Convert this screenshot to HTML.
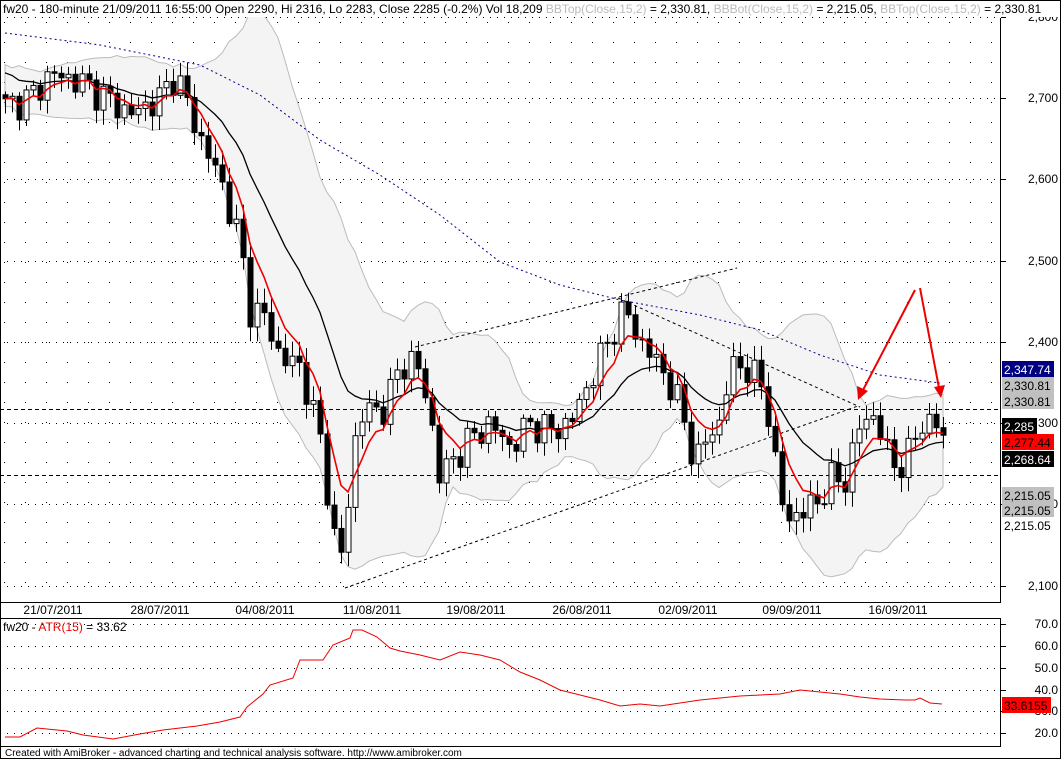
<!DOCTYPE html>
<html><head><meta charset="utf-8"><style>
html,body{margin:0;padding:0;background:#fff;}
body{width:1061px;height:759px;overflow:hidden;font-family:"Liberation Sans",Arial,sans-serif;}
svg text{font-family:"Liberation Sans",Arial,sans-serif;font-size:12px;}
</style></head><body>
<svg id="c" width="1061" height="759" xmlns="http://www.w3.org/2000/svg"></svg>
<script>
const S=document.getElementById('c');let h='';
const P=p=>423-(p-2300)*0.8125;
function interp(k,x){for(let i=0;i<k.length-1;i++){if(x<=k[i+1][0]){const t=(x-k[i][0])/(k[i+1][0]-k[i][0]);return k[i][1]+t*(k[i+1][1]-k[i][1]);}}return k[k.length-1][1];}
for(let x=4;x<1000;x+=21){for(let y=22;y<600;y+=20)h+=`<rect x="${x}" y="${y}" width="1" height="1" fill="#000"/>`;}
[2800,2700,2600,2500,2400,2300,2200,2100].forEach(p=>{const y=Math.round(P(p));h+=`<line x1="0" x2="1000" y1="${y}.5" y2="${y}.5" stroke="#000" stroke-dasharray="1,6"/>`;});
[624,646,668,690,711,733].forEach(y=>{h+=`<line x1="0" x2="1000" y1="${y}.5" y2="${y}.5" stroke="#000" stroke-dasharray="1,6"/>`;});
const K=[[5,2690],[30,2700],[50,2730],[80,2720],[100,2705],[130,2680],[160,2700],[175,2730],[185,2700],[200,2650],[220,2600],[240,2520],[250,2440],[265,2430],[280,2380],[300,2370],[320,2280],[335,2150],[345,2130],[350,2250],[360,2310],[385,2320],[400,2370],[415,2380],[430,2310],[440,2230],[455,2260],[470,2280],[490,2300],[510,2270],[530,2300],[550,2290],[570,2300],[585,2340],[600,2380],[615,2420],[625,2440],[640,2400],[660,2370],[680,2320],[695,2250],[710,2290],[720,2300],[730,2370],[745,2370],[765,2340],[775,2250],[785,2180],[800,2190],[815,2200],[830,2230],[845,2230],[860,2300],[875,2310],[890,2250],[905,2250],[920,2300],[935,2300],[943,2285]];
const N=135,xs=[],C=[];
for(let i=0;i<N;i++){const x=5+i*7;xs.push(x);C.push(interp(K,x)+Math.sin(i*2.3)*14+Math.cos(i*1.7)*9);}
C[N-1]=2285;
const ema=[],ma=[],up=[],lo=[];let e=C[0],m2=2735;
const hist=[2735,2730,2728,2725,2722,2720,2718,2715,2712,2710,2708,2705,2703,2700];
for(let i=0;i<N;i++){e=e+(C[i]-e)*0.3;ema.push(e);m2=m2+(C[i]-m2)*0.11;ma.push(m2);
const all=hist.concat(C.slice(0,i+1));const s=all.slice(-15);const m=s.reduce((a,b)=>a+b,0)/s.length;const sd=Math.sqrt(s.reduce((a,b)=>a+(b-m)*(b-m),0)/s.length);up.push(m+2*sd+4);lo.push(m-2*sd-4);}
let band='M'+xs.map((x,i)=>x+','+P(up[i]).toFixed(1)).join(' L')+' L'+xs.map((x,i)=>x+','+P(lo[i]).toFixed(1)).reverse().join(' L')+'Z';
h+=`<path d="${band}" fill="#f4f4f4" stroke="#bbb" stroke-width="1"/>`;
const B=[[5,33],[100,45],[200,65],[260,95],[320,140],[380,175],[440,215],[500,262],[560,285],[620,300],[700,315],[760,330],[820,355],[880,375],[940,383]];
h+=`<polyline points="${B.map(p=>p.join(',')).join(' ')}" fill="none" stroke="#00008b" stroke-dasharray="2,3"/>`;
h+=`<line x1="0" x2="1000" y1="409.5" y2="409.5" stroke="#000" stroke-dasharray="4,3"/><line x1="0" x2="1000" y1="475.5" y2="475.5" stroke="#000" stroke-dasharray="4,3"/>`;
h+=`<line x1="345" y1="588" x2="858" y2="406" stroke="#000" stroke-dasharray="3,3"/><line x1="415" y1="347" x2="737" y2="268" stroke="#000" stroke-dasharray="3,3"/><line x1="618" y1="298" x2="860" y2="407" stroke="#000" stroke-dasharray="3,3"/>`;
for(let i=0;i<N;i++){const o=i?C[i-1]:C[0]+5,c=C[i];const hi=Math.max(o,c)+4+Math.abs(Math.sin(i*3.1))*14,l=Math.min(o,c)-4-Math.abs(Math.cos(i*2.7))*14;const x=xs[i];
h+=`<line x1="${x+.5}" x2="${x+.5}" y1="${P(hi)}" y2="${P(l)}" stroke="#000"/>`;
const y1=P(Math.max(o,c)),bh=Math.max(1,P(Math.min(o,c))-y1);
h+=`<rect x="${x-2}" y="${y1}" width="5" height="${bh}" fill="${c>=o?'#fff':'#000'}" stroke="#000" stroke-width="1"/>`;}
h+=`<polyline points="${xs.map((x,i)=>x+','+P(ma[i]).toFixed(1)).join(' ')}" fill="none" stroke="#000" stroke-width="1.3"/>`;
h+=`<polyline points="${xs.map((x,i)=>x+','+P(ema[i]).toFixed(1)).join(' ')}" fill="none" stroke="#e00" stroke-width="1.6"/>`;
h+=`<line x1="915" y1="290" x2="862" y2="392" stroke="#e00" stroke-width="2"/><polygon points="858,400 857,386 868,391" fill="#e00"/>`;
h+=`<line x1="920" y1="288" x2="939" y2="388" stroke="#e00" stroke-width="2"/><polygon points="941,398 934,387 945,385" fill="#e00"/>`;
h+=`<rect x="0.5" y="0.5" width="1060" height="758" fill="none" stroke="#000"/>`;
h+=`<line x1="1000.5" x2="1000.5" y1="18" y2="602" stroke="#000"/><line x1="0" x2="1001" y1="602.5" y2="602.5" stroke="#000"/><line x1="0" x2="1001" y1="618.5" y2="618.5" stroke="#000"/><line x1="1000.5" x2="1000.5" y1="618" y2="746" stroke="#000"/><line x1="0" x2="1001" y1="746.5" y2="746.5" stroke="#000"/>`;
[[53,'21/07/2011'],[160,'28/07/2011'],[265,'04/08/2011'],[372,'11/08/2011'],[476,'19/08/2011'],[582,'26/08/2011'],[688,'02/09/2011'],[792,'09/09/2011'],[898,'16/09/2011']].forEach(d=>{h+=`<text x="${d[0]}" y="614" text-anchor="middle">${d[1]}</text>`;});
[2800,2700,2600,2500,2400,2300,2200,2100].forEach(p=>{const y=Math.round(P(p));h+=`<line x1="1001" x2="1006" y1="${y}.5" y2="${y}.5" stroke="#000"/><text x="1058" y="${y+4}" text-anchor="end">${p.toLocaleString('en-US')}</text>`;});
[[624,'70.0'],[646,'60.0'],[668,'50.0'],[690,'40.0'],[711,'30.0'],[733,'20.0']].forEach(a=>{h+=`<line x1="1001" x2="1006" y1="${a[0]}.5" y2="${a[0]}.5" stroke="#000"/><text x="1058" y="${a[0]+4}" text-anchor="end">${a[1]}</text>`;});
const L=[[361,'2,347.74','#000080','#fff',52],[377,'2,330.81','#c0c0c0','#000',52],[393,'2,330.81','#c0c0c0','#000',52],[418,'2,285','#000','#fff',35],[434,'2,277.44','#f00','#000',52],[451,'2,268.64','#000','#fff',52],[487,'2,215.05','#c0c0c0','#000',52],[502,'2,215.05','#c0c0c0','#000',52],[517,'2,215.05','#fff','#000',52],[697,'33.6155','#f00','#000',49]];
L.forEach(l=>{h+=`<rect x="1002" y="${l[0]}" width="${l[4]}" height="16" fill="${l[2]}"/><text x="1004" y="${l[0]+13}" fill="${l[3]}">${l[1]}</text>`;});
const A=[[5,737],[20,737],[37,728],[67,731],[83,735],[113,739],[140,734],[163,730],[197,726],[220,722],[240,717],[247,707],[263,694],[270,685],[293,678],[300,660],[323,660],[333,645],[350,638],[353,630],[362,630],[377,637],[390,648],[400,651],[420,655],[440,660],[460,652],[480,655],[500,660],[520,672],[540,680],[560,690],[580,695],[600,700],[620,706],[640,704],[660,706],[700,700],[740,696],[780,694],[800,690],[840,694],[860,697],[880,699],[905,700],[915,700],[920,698],[930,703],[942,704]];
h+=`<polyline points="${A.map(p=>p.join(',')).join(' ')}" fill="none" stroke="#e00" stroke-width="1"/>`;
h+=`<rect x="1" y="1" width="1059" height="16" fill="#fff"/>`;
h+=`<text x="3" y="13" xml:space="preserve">fw20 - 180-minute 21/09/2011 16:55:00 Open 2290, Hi 2316, Lo 2283, Close 2285 (-0.2%) Vol 18,209 <tspan fill="#bbb">BBTop(Close,15,2)</tspan> = 2,330.81, <tspan fill="#bbb">BBBot(Close,15,2)</tspan> = 2,215.05, <tspan fill="#bbb">BBTop(Close,15,2)</tspan> = 2,330.81</text>`;
h+=`<text x="3" y="631">fw20 - <tspan fill="#e00">ATR(15)</tspan> = 33.62</text>`;
h+=`<text x="5" y="756" style="font-size:10px">Created with AmiBroker - advanced charting and technical analysis software. http://www.amibroker.com</text>`;
S.innerHTML=h;
</script>
</body></html>
